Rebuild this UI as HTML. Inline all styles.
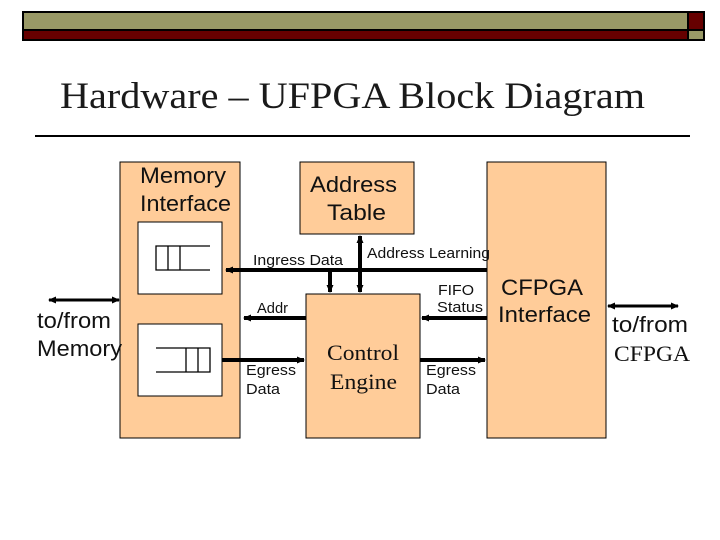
<!DOCTYPE html>
<html><head><style>
body{margin:0;width:720px;height:540px;background:#fff;overflow:hidden}
svg{display:block}
text{font-family:"Liberation Sans",sans-serif}
.s{font-family:"Liberation Serif",serif}
</style></head><body>
<svg width="720" height="540" viewBox="0 0 720 540">
<defs>
<marker id="a" markerWidth="8" markerHeight="8" refX="7" refY="4" orient="auto-start-reverse" markerUnits="userSpaceOnUse"><path d="M0,0.5 L8,4 L0,7.5 z" fill="#000"/></marker>
</defs>
<rect x="23" y="12" width="665" height="18" fill="#999966" stroke="#000" stroke-width="2"/>
<rect x="23" y="30" width="665" height="10" fill="#660000" stroke="#000" stroke-width="2"/>
<rect x="688" y="12" width="16" height="18" fill="#660000" stroke="#000" stroke-width="2"/>
<rect x="688" y="30" width="16" height="10" fill="#999966" stroke="#000" stroke-width="2"/>
<text x="60" y="108" class="s" font-size="37" fill="#1a1a1a" textLength="585" lengthAdjust="spacingAndGlyphs">Hardware – UFPGA Block Diagram</text>
<line x1="35" y1="136" x2="690" y2="136" stroke="#000" stroke-width="2"/>
<g fill="#ffcc99" stroke="#000" stroke-width="1">
<rect x="120" y="162" width="120" height="276"/>
<rect x="300" y="162" width="114" height="72"/>
<rect x="306" y="294" width="114" height="144"/>
<rect x="487" y="162" width="119" height="276"/>
</g>
<g fill="#fff" stroke="#000" stroke-width="1">
<rect x="138" y="222" width="84" height="72"/>
<rect x="138" y="324" width="84" height="72"/>
</g>
<g stroke="#000" stroke-width="1.3" fill="none">
<path d="M210,246 H156 V270 H210 M168,246 V270 M180,246 V270"/>
<path d="M156,348 H210 V372 H156 M186,348 V372 M198,348 V372"/>
</g>
<g stroke="#000" stroke-width="4" marker-end="url(#a)">
<line x1="487" y1="270" x2="226" y2="270"/>
<line x1="330" y1="270" x2="330" y2="292"/>
<line x1="306" y1="318" x2="244" y2="318"/>
<line x1="487" y1="318" x2="422" y2="318"/>
<line x1="222" y1="360" x2="304" y2="360"/>
<line x1="420" y1="360" x2="485" y2="360"/>
</g>
<g stroke="#000" stroke-width="4" marker-end="url(#a)" marker-start="url(#a)">
<line x1="360" y1="236" x2="360" y2="292"/>
</g>
<g stroke="#000" stroke-width="3" marker-end="url(#a)" marker-start="url(#a)">
<line x1="49" y1="300" x2="119" y2="300"/>
<line x1="608" y1="306" x2="678" y2="306"/>
</g>
<g font-size="22" fill="#111" lengthAdjust="spacingAndGlyphs">
<text x="140" y="183" textLength="86" lengthAdjust="spacingAndGlyphs">Memory</text>
<text x="140" y="211" textLength="91" lengthAdjust="spacingAndGlyphs">Interface</text>
<text x="310" y="192" textLength="87" lengthAdjust="spacingAndGlyphs">Address</text>
<text x="327" y="220" textLength="59" lengthAdjust="spacingAndGlyphs">Table</text>
<text x="501" y="295" textLength="82" lengthAdjust="spacingAndGlyphs">CFPGA</text>
<text x="498" y="322" textLength="93" lengthAdjust="spacingAndGlyphs">Interface</text>
<text x="37" y="328" textLength="74" lengthAdjust="spacingAndGlyphs">to/from</text>
<text x="37" y="356" textLength="85" lengthAdjust="spacingAndGlyphs">Memory</text>
<text x="612" y="332" textLength="76" lengthAdjust="spacingAndGlyphs">to/from</text>
</g>
<text x="614" y="361" class="s" font-size="22" fill="#111" textLength="76" lengthAdjust="spacingAndGlyphs">CFPGA</text>
<g font-size="15" fill="#111">
<text x="253" y="265" textLength="90" lengthAdjust="spacingAndGlyphs">Ingress Data</text>
<text x="367" y="258" textLength="123" lengthAdjust="spacingAndGlyphs">Address Learning</text>
<text x="257" y="313" textLength="31" lengthAdjust="spacingAndGlyphs">Addr</text>
<text x="438" y="295" textLength="36" lengthAdjust="spacingAndGlyphs">FIFO</text>
<text x="437" y="312" textLength="46" lengthAdjust="spacingAndGlyphs">Status</text>
<text x="246" y="375" textLength="50" lengthAdjust="spacingAndGlyphs">Egress</text>
<text x="246" y="394" textLength="34" lengthAdjust="spacingAndGlyphs">Data</text>
<text x="426" y="375" textLength="50" lengthAdjust="spacingAndGlyphs">Egress</text>
<text x="426" y="394" textLength="34" lengthAdjust="spacingAndGlyphs">Data</text>
</g>
<text x="327" y="360" class="s" font-size="22" fill="#111" textLength="72" lengthAdjust="spacingAndGlyphs">Control</text>
<text x="330" y="389" class="s" font-size="22" fill="#111" textLength="67" lengthAdjust="spacingAndGlyphs">Engine</text>
</svg>
</body></html>
